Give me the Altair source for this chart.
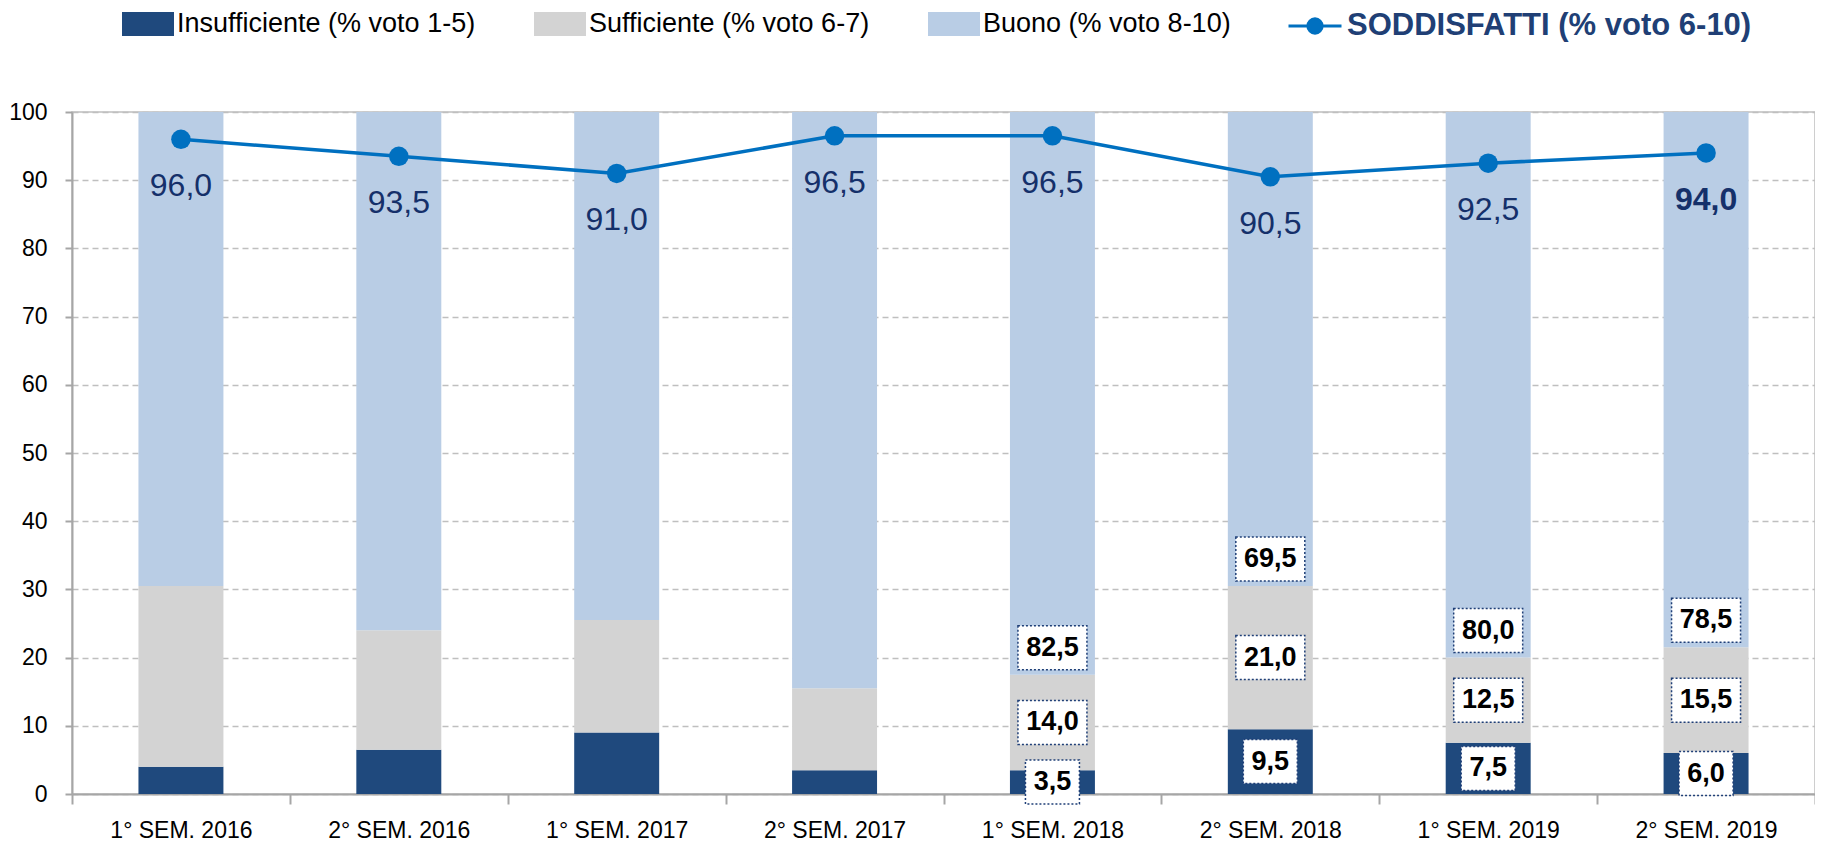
import altair as alt
import pandas as pd

categories = ["1° SEM. 2016", "2° SEM. 2016", "1° SEM. 2017", "2° SEM. 2017",
              "1° SEM. 2018", "2° SEM. 2018", "1° SEM. 2019", "2° SEM. 2019"]
insufficiente = [4.0, 6.5, 9.0, 3.5, 3.5, 9.5, 7.5, 6.0]
sufficiente = [26.5, 17.5, 16.5, 12.0, 14.0, 21.0, 12.5, 15.5]
buono = [69.5, 76.0, 74.5, 84.5, 82.5, 69.5, 80.0, 78.5]
soddisfatti = [96.0, 93.5, 91.0, 96.5, 96.5, 90.5, 92.5, 94.0]
series_names = ["Insufficiente (% voto 1-5)", "Sufficiente (% voto 6-7)", "Buono (% voto 8-10)"]
series_colors = ["#1F497D", "#D3D3D3", "#B9CDE5"]
line_name = "SODDISFATTI (% voto 6-10)"
labelled = categories[4:]
last_cat = categories[-1]


def fmt(v):
    return f"{v:.1f}".replace(".", ",")


rows = []
for i, c in enumerate(categories):
    lo = 0.0
    for k, vals in enumerate([insufficiente, sufficiente, buono]):
        v = vals[i]
        rows.append(dict(periodo=c, serie=series_names[k], k=k, lo=lo, hi=lo + v,
                         mid=lo + v / 2, label=fmt(v)))
        lo += v
bars_df = pd.DataFrame(rows)
line_df = pd.DataFrame(dict(periodo=categories, value=soddisfatti,
                            label=[fmt(v) for v in soddisfatti],
                            nome=[line_name] * len(categories)))

FONT = "Liberation Sans"

xenc = alt.X("periodo:N",
             scale=alt.Scale(domain=categories, paddingInner=0, paddingOuter=0),
             axis=alt.Axis(title=None, labelAngle=0, tickBand="extent", tickSize=10,
                           labelPadding=15, grid=False))
yscale = alt.Scale(domain=[0, 100], nice=False)
yaxis = alt.Axis(title=None, values=list(range(0, 101, 10)), grid=True, gridDash=[6, 4],
                 gridColor="#BFBFBF", gridWidth=1.5, tickSize=7, labelPadding=18)

rect_path = "M-1,-0.46H1V0.46H-1Z"
line_path = "M-1,0H1M0.27,0A0.27,0.27,0,1,1,-0.27,0A0.27,0.27,0,1,1,0.27,0Z"

bars = alt.Chart(bars_df).mark_bar(width=alt.RelativeBandSize(0.39)).encode(
    x=xenc,
    y=alt.Y("lo:Q", scale=yscale, axis=yaxis),
    y2="hi:Q",
    color=alt.Color("serie:N",
                    scale=alt.Scale(domain=series_names, range=series_colors),
                    legend=alt.Legend(orient="none", legendX=50, legendY=-114,
                                      direction="horizontal", title=None,
                                      symbolType=rect_path, symbolSize=2704,
                                      symbolStrokeWidth=0, symbolOpacity=1,
                                      labelFontSize=27, labelFont=FONT,
                                      labelColor="black", labelOffset=3,
                                      columnPadding=58, labelLimit=600)),
)

line = alt.Chart(line_df).mark_line(strokeWidth=3.5).encode(
    x=xenc,
    y=alt.Y("value:Q", scale=yscale),
    stroke=alt.Stroke("nome:N",
                      scale=alt.Scale(domain=[line_name], range=["#0070C0"]),
                      legend=alt.Legend(orient="none", legendX=1215, legendY=-114,
                                        title=None, symbolType=line_path,
                                        symbolSize=2809, symbolStrokeWidth=3,
                                        symbolFillColor="#0070C0",
                                        symbolStrokeColor="#0070C0",
                                        labelFontSize=31, labelFont=FONT,
                                        labelFontWeight="bold", labelColor="#203F75",
                                        labelOffset=4, labelLimit=700)),
)

points = alt.Chart(line_df).mark_circle(size=380, color="#0070C0", opacity=1).encode(
    x=xenc, y=alt.Y("value:Q", scale=yscale))

sod_style = dict(dy=47, fontSize=32, font=FONT, color="#15306A", baseline="middle")
sod_labels = alt.Chart(line_df).transform_filter(
    f"datum.periodo != '{last_cat}'").mark_text(**sod_style).encode(
    x=xenc, y=alt.Y("value:Q", scale=yscale), text="label:N")
sod_last = alt.Chart(line_df).transform_filter(
    f"datum.periodo == '{last_cat}'").mark_text(fontWeight="bold", **sod_style).encode(
    x=xenc, y=alt.Y("value:Q", scale=yscale), text="label:N")

lab_base = alt.Chart(bars_df).transform_filter(
    alt.FieldOneOfPredicate(field="periodo", oneOf=labelled))

wide = "M-1.568,-1H1.568V1H-1.568Z"
narrow = "M-1.227,-1H1.227V1H-1.227Z"
shape_cond = alt.condition("length(datum.label) > 3", alt.value(wide), alt.value(narrow))
box_style = dict(filled=True, fill="white", stroke="#1F3F77", strokeWidth=1.5,
                 strokeDash=[2, 2], size=1936, opacity=1)

box_mid = lab_base.transform_filter("datum.k < 2").mark_point(**box_style).encode(
    x=xenc, y=alt.Y("mid:Q", scale=yscale), shape=shape_cond)
box_top = lab_base.transform_filter("datum.k == 2").mark_point(yOffset=-27, **box_style).encode(
    x=xenc, y=alt.Y("lo:Q", scale=yscale), shape=shape_cond)
txt_style = dict(fontSize=27, font=FONT, fontWeight="bold", color="black", baseline="middle")
txt_mid = lab_base.transform_filter("datum.k < 2").mark_text(**txt_style).encode(
    x=xenc, y=alt.Y("mid:Q", scale=yscale), text="label:N")
txt_top = lab_base.transform_filter("datum.k == 2").mark_text(dy=-27, **txt_style).encode(
    x=xenc, y=alt.Y("lo:Q", scale=yscale), text="label:N")

chart = alt.layer(bars, line, points, sod_labels, sod_last, box_mid, box_top, txt_mid, txt_top).properties(
    width=1743, height=682,
    autosize=alt.AutoSizeParams(type="none"),
    padding={"left": 64, "top": 104, "right": 0, "bottom": 50},
    background="white",
).configure_view(stroke="#BFBFBF", strokeWidth=1.5).configure_axis(
    labelFont=FONT, labelFontSize=23, labelColor="black",
    domainColor="#A6A6A6", domainWidth=2, tickColor="#A6A6A6", tickWidth=2,
)

chart.save("out.html", embed_options={"renderer": "svg", "actions": False})
